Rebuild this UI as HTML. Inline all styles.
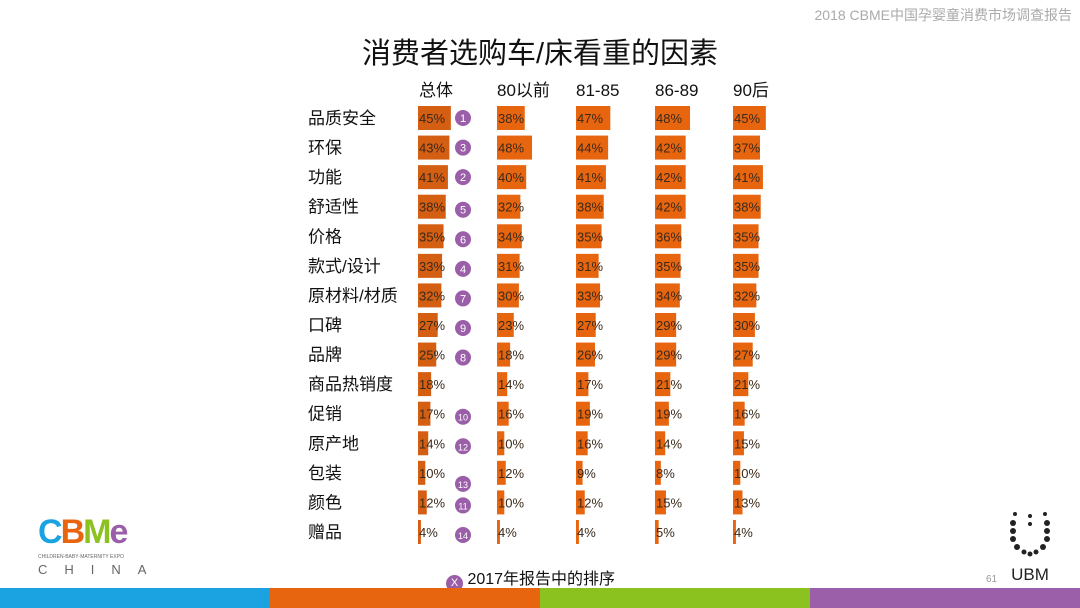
<!DOCTYPE html>
<html><head><meta charset="utf-8">
<style>
body{margin:0;width:1080px;height:608px;background:#fff;overflow:hidden;position:relative;font-family:"Liberation Sans","Noto Sans CJK SC",sans-serif;}
.abs{position:absolute;}
</style></head>
<body>
<div class="abs" style="right:8px;top:5px;font-size:14px;color:#aaa;">2018 CBME中国孕婴童消费市场调查报告</div>
<div class="abs" style="left:0;width:1080px;top:30px;text-align:center;font-size:29px;color:#111;">消费者选购车/床看重的因素</div>
<svg class="abs" style="left:0;top:0" width="1080" height="608" id="chart"></svg>
<div class="abs" style="left:38px;top:514px;">
  <div style="font-size:34px;font-weight:bold;letter-spacing:-2px;line-height:36px;"><span style="color:#1aa3e0">C</span><span style="color:#e8650f">B</span><span style="color:#8cc220">M</span><span style="color:#9a5fa8">e</span></div>
  <div style="font-size:5px;color:#666;margin-top:4px;">CHILDREN·BABY·MATERNITY EXPO</div>
  <div style="font-size:13px;color:#666;letter-spacing:17px;margin-top:2px;">CHINA</div>
</div>
<div class="abs" style="left:1005px;top:510px;width:50px;text-align:center;">
  <svg width="50" height="48">
    <g fill="#222">
      <circle cx="10" cy="4" r="2"/><circle cx="40" cy="4" r="2"/><circle cx="25" cy="6" r="2"/>
      <circle cx="8" cy="13" r="3"/><circle cx="42" cy="13" r="3"/><circle cx="25" cy="14" r="2"/>
      <circle cx="8" cy="21" r="3"/><circle cx="42" cy="21" r="3"/>
      <circle cx="8" cy="29" r="3"/><circle cx="42" cy="29" r="3"/>
      <circle cx="12" cy="37" r="3"/><circle cx="38" cy="37" r="3"/>
      <circle cx="19" cy="42" r="2.5"/><circle cx="31" cy="42" r="2.5"/><circle cx="25" cy="44" r="2.5"/>
    </g>
  </svg>
  <div style="font-size:17px;color:#222;margin-top:2px;">UBM</div>
</div>
<div class="abs" style="left:986px;top:574px;font-size:10px;color:#999;">61</div>
<div class="abs" style="left:446px;top:565px;font-size:16px;color:#111;">
  <span style="display:inline-block;width:17px;height:17px;border-radius:50%;background:#9a5fa8;color:#fff;font-size:11px;text-align:center;line-height:17px;vertical-align:-2px;">X</span> 2017年报告中的排序
</div>
<div class="abs" style="left:0;top:588px;width:270px;height:20px;background:#1aa3e0"></div>
<div class="abs" style="left:270px;top:588px;width:270px;height:20px;background:#e8650f"></div>
<div class="abs" style="left:540px;top:588px;width:270px;height:20px;background:#8cc220"></div>
<div class="abs" style="left:810px;top:588px;width:270px;height:20px;background:#9a5fa8"></div>
<script>
const categories=["品质安全","环保","功能","舒适性","价格","款式/设计","原材料/材质","口碑","品牌","商品热销度","促销","原产地","包装","颜色","赠品"];
const groups=["总体","80以前","81-85","86-89","90后"];
const total=[45,43,41,38,35,33,32,27,25,18,17,14,10,12,4];
const pre80=[38,48,40,32,34,31,30,23,18,14,16,10,12,10,4];
const g8185=[47,44,41,38,35,31,33,27,26,17,19,16,9,12,4];
const g8689=[48,42,42,42,36,35,34,29,29,21,19,14,8,15,5];
const g90=[45,37,41,38,35,35,32,30,27,21,16,15,10,13,4];
const ranks2017=[1,3,2,5,6,4,7,9,8,null,10,12,13,11,14];
const series=[total,pre80,g8185,g8689,g90];
const colX=[418,497,576,655,733];
const svg=document.getElementById('chart');
const NS='http://www.w3.org/2000/svg';
const xs=v=>v*0.73;
const rowY=i=>118+i*29.57;
function mk(tag,attrs){const e=document.createElementNS(NS,tag);for(const k in attrs)e.setAttribute(k,attrs[k]);svg.appendChild(e);return e;}
groups.forEach((g,j)=>{
  const t=mk('text',{x:colX[j]+(j==0?1:0),y:96,'font-size':17,fill:'#111'});
  t.textContent=g;
  
  
});
categories.forEach((c,i)=>{
  const y=rowY(i);
  const t=mk('text',{x:308,y:y+6,'font-size':17,fill:'#111'});
  t.textContent=c;
  
  
  series.forEach((s,j)=>{
    const r=mk('rect',{x:colX[j],y:y-12,width:Math.max(2,xs(s[i])),height:24,fill:j==0?'#d45e12':'#e8650f'});
    
    
    const l=mk('text',{x:colX[j]+1,y:y+5,'font-size':13,fill:'#3a2a1a'});
    l.textContent=s[i]+'%';
    
    
  });
  if(ranks2017[i]!=null){
    const cy=y+(i>=3?3:0)+(i==12?8:0);
    const b=mk('circle',{cx:463,cy:cy,r:8,fill:'#9a5fa8'});
    
    
    const bt=mk('text',{x:463,y:cy+4,'font-size':ranks2017[i]>9?9:11,fill:'#fff','text-anchor':'middle'});
    bt.textContent=ranks2017[i];
    
    
  }
});
</script>
</body></html>
